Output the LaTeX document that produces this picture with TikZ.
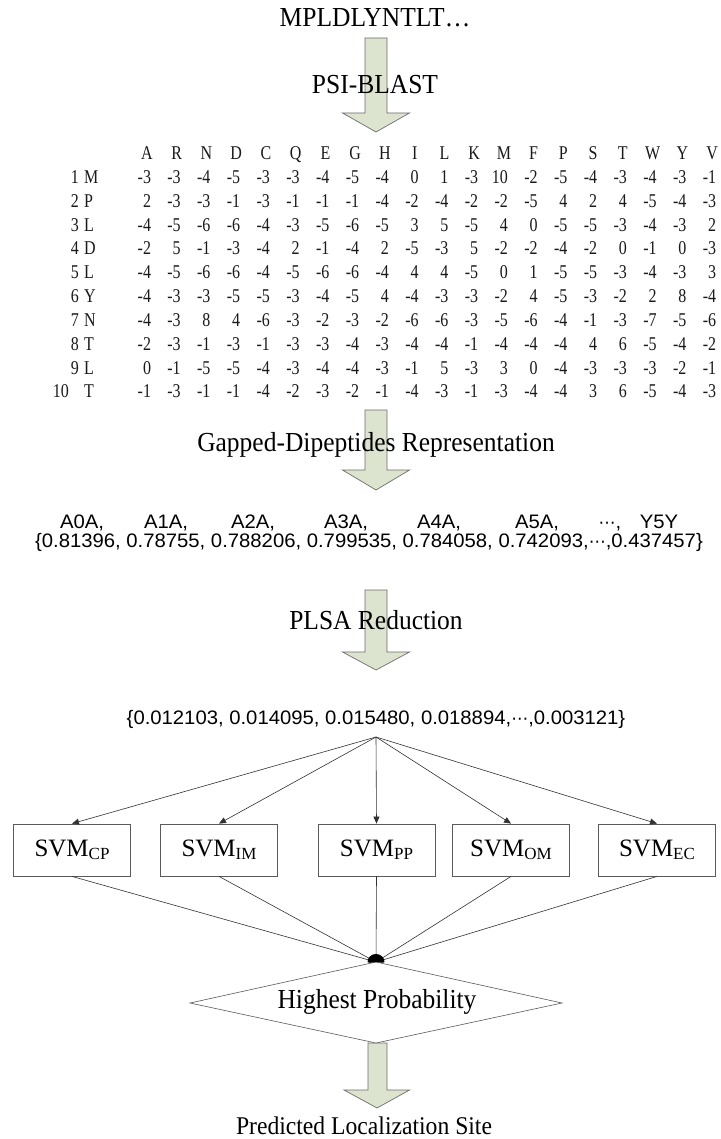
\documentclass[tikz,border=0pt]{standalone}
\usepackage{fontspec}
\setmainfont{Liberation Serif}
\newfontfamily\lblf[FakeStretch=0.927]{Liberation Serif}
\newfontfamily\arialf[FakeStretch=1.04]{Liberation Sans}
\newfontfamily\matf[FakeStretch=0.82]{Liberation Serif}
\newfontfamily\djv{DejaVu Sans}
\usetikzlibrary{arrows.meta}
\definecolor{afill}{RGB}{220,227,207}
\definecolor{aedge}{RGB}{110,110,110}
\definecolor{lcol}{RGB}{50,50,50}
\definecolor{boxc}{RGB}{90,90,90}
\newcommand\svsub[1]{\raisebox{-3pt}{\fontsize{17}{17}\selectfont #1}}
\newcommand\mdots{{\djv\fontsize{17}{17}\selectfont ⋯}}
\tikzset{
  blockarrow/.style={fill=afill, draw=aedge, line width=0.7pt, line join=miter},
  lbl/.style={font=\lblf\fontsize{27.5}{30}\selectfont, inner sep=0pt},
  sans/.style={font=\arialf\fontsize{19.5}{22}\selectfont, inner sep=0pt},
  mat/.style={font=\matf\fontsize{19.5}{21}\selectfont, inner sep=0pt, text=black!90},
  svmbox/.style={draw=boxc, line width=0.8pt, minimum width=117pt, minimum height=52pt, inner sep=0pt, font=\fontsize{25}{28}\selectfont},
  conn/.style={draw=lcol, line width=0.6pt},
  tipd/.style={-{Triangle[length=7pt,width=6pt]}}
}
\begin{document}
\begin{tikzpicture}[x=1pt,y=-1pt]
\useasboundingbox (0,0) rectangle (720,1139);
\fill[white] (0,0) rectangle (720,1139);
% block arrows
\foreach \tp/\bs/\tip in {38/113/132, 410/470/490, 590/652/670}
  \draw[blockarrow] (365,\tp) -- (387,\tp) -- (387,\bs) -- (409.5,\bs) -- (376,\tip) -- (342.5,\bs) -- (365,\bs) -- cycle;
% texts
\node[lbl] (seq) at (375,18) {MPLDLYNTLT…};
\node[lbl] (psi) at (375,85) {PSI-BLAST};
% matrix header
\foreach \L [count=\cc] in {A,R,N,D,C,Q,E,G,H,I,L,K,M,F,P,S,T,W,Y,V}
  \node[mat,anchor=base] (h\cc) at ({147+(\cc-1)*29.74},159.8) {\L};
\foreach \rr/\rl/\vals in {
 1/M/{-3,-3,-4,-5,-3,-3,-4,-5,-4,0,1,-3,10,-2,-5,-4,-3,-4,-3,-1},
 2/P/{2,-3,-3,-1,-3,-1,-1,-1,-4,-2,-4,-2,-2,-5,4,2,4,-5,-4,-3},
 3/L/{-4,-5,-6,-6,-4,-3,-5,-6,-5,3,5,-5,4,0,-5,-5,-3,-4,-3,2},
 4/D/{-2,5,-1,-3,-4,2,-1,-4,2,-5,-3,5,-2,-2,-4,-2,0,-1,0,-3},
 5/L/{-4,-5,-6,-6,-4,-5,-6,-6,-4,4,4,-5,0,1,-5,-5,-3,-4,-3,3},
 6/Y/{-4,-3,-3,-5,-5,-3,-4,-5,4,-4,-3,-3,-2,4,-5,-3,-2,2,8,-4},
 7/N/{-4,-3,8,4,-6,-3,-2,-3,-2,-6,-6,-3,-5,-6,-4,-1,-3,-7,-5,-6},
 8/T/{-2,-3,-1,-3,-1,-3,-3,-4,-3,-4,-4,-1,-4,-4,-4,4,6,-5,-4,-2},
 9/L/{0,-1,-5,-5,-4,-3,-4,-4,-3,-1,5,-3,3,0,-4,-3,-3,-3,-2,-1},
 10/T/{-1,-3,-1,-1,-4,-2,-3,-2,-1,-4,-3,-1,-3,-4,-4,3,6,-5,-4,-3}}{
  \pgfmathsetmacro{\ry}{177+(\rr-1)*23.8+6.6}
  \pgfmathsetmacro{\rx}{\rr==10 ? 69 : 79}
  \node[mat,anchor=base east] (rn\rr) at (\rx,\ry) {\rr};
  \node[mat,anchor=base west] (ra\rr) at (84,\ry) {\rl};
  \foreach \v [count=\cc] in \vals
    \node[mat,anchor=base east] (m\rr-\cc) at ({147+(\cc-1)*29.74+4.2},\ry) {\v};
}
\node[lbl] (gdr) at (376,445) {Gapped-Dipeptides Representation};
% gapped dipeptide labels
\foreach \t/\xx [count=\cc] in {{A0A,}/82, {A1A,}/166, {A2A,}/253, {A3A,}/346, {A4A,}/439, {A5A,}/537, {\mdots,}/610, {Y5Y}/659}
  \node[sans,anchor=base] (g\cc) at (\xx,528.5) {\t};
\node[sans,anchor=base east] (vec1) at (703,547) {\{0.81396, 0.78755, 0.788206, 0.799535, 0.784058, 0.742093,\mdots,0.437457\}};
\node[lbl] (plsa) at (376,620) {PLSA Reduction};
\node[sans,anchor=base] (vec2) at (376,724) {\{0.012103, 0.014095, 0.015480, 0.018894,\mdots,0.003121\}};
\coordinate (hub) at (376,737);
% SVM boxes
\node[svmbox] (cp) at (72,850) {SVM\svsub{CP}};
\node[svmbox] (im) at (219,850) {SVM\svsub{IM}};
\node[svmbox] (pp) at (376.5,850) {SVM\svsub{PP}};
\node[svmbox] (om) at (511,850) {SVM\svsub{OM}};
\node[svmbox] (ec) at (657,850) {SVM\svsub{EC}};
\foreach \b in {cp,im,pp,om,ec}
  \draw[conn,tipd] (hub) -- (\b.north);
% diamond
\coordinate (dtop) at (376,962);
\coordinate (dleft) at (190,1003);
\coordinate (dright) at (562,1003);
\coordinate (dbot) at (376,1043);
\draw[blockarrow] (368,1043) -- (387,1043) -- (387,1090) -- (409.5,1090) -- (377,1108) -- (344,1090) -- (368,1090) -- cycle;
\draw[draw=boxc, line width=0.6pt, fill=white] (dtop) -- (dright) -- (dbot) -- (dleft) -- cycle;
\node[lbl] (hp) at (377,1002) {Highest Probability};
\foreach \b in {cp,im,pp,om,ec}
  \draw[conn,tipd] (\b.south) -- (dtop);
\fill[black] (dtop) ++(-8.5,0) arc[start angle=180, end angle=360, x radius=8.5, y radius=8] -- cycle;
\node[lbl, font=\lblf\fontsize{25.5}{28}\selectfont] (pred) at (364,1126) {Predicted Localization Site};
\end{tikzpicture}
\end{document}
